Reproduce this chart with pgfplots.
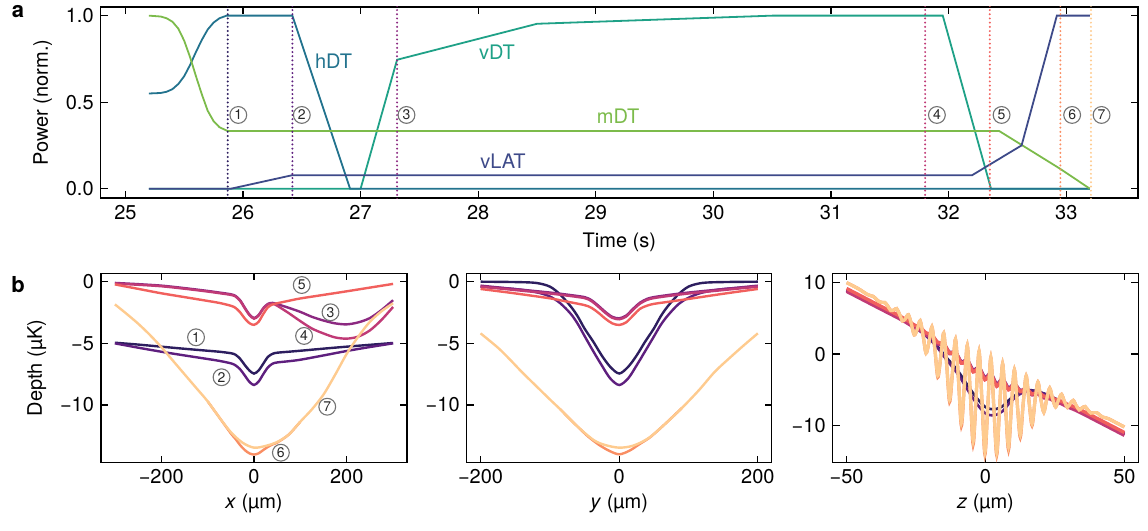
\documentclass[border=0pt]{standalone}
\usepackage{fontspec}
\setmainfont{TeX Gyre Heros}
\usepackage{pgfplots}
\pgfplotsset{compat=1.18}
\definecolor{hdt}{HTML}{23738E}
\definecolor{vdt}{HTML}{1FA187}
\definecolor{mdt}{HTML}{7CBB4B}
\definecolor{vlat}{HTML}{3E4A89}
\definecolor{c1}{HTML}{2D1E5F}
\definecolor{c2}{HTML}{5E1F7E}
\definecolor{c3}{HTML}{8C2981}
\definecolor{c4}{HTML}{C03A76}
\definecolor{c5}{HTML}{F1605D}
\definecolor{c6}{HTML}{F98E63}
\definecolor{c7}{HTML}{FECB8F}
\tikzset{
  circ/.style={circle,draw=black!55,line width=0.55pt,inner sep=0pt,minimum size=8.4pt,font=\fontsize{7}{7}\selectfont,text=black!85},
  vdot/.style={line width=1.1pt,dash pattern=on 0pt off 2.1pt,line cap=round},
}
\pgfplotsset{
  every axis/.append style={scale only axis, anchor=south west,
    axis line style={line width=0.7pt}, tick style={line width=0.6pt,black},
    major tick length=3.5pt, tick align=inside,
    /pgf/number format/assume math mode=true},
}
\begin{document}
\begin{tikzpicture}[font=\fontsize{10}{12}\selectfont]
\path[use as bounding box] (0,0) rectangle (574pt,265.5pt);
\node[font=\bfseries\fontsize{11}{11}\selectfont] at (9pt,259.5pt) {a};
\node[font=\bfseries\fontsize{11}{11}\selectfont] at (9pt,123pt) {b};

% ---------------- panel a ----------------
\begin{axis}[at={(50.35pt,166.5pt)}, width=518.65pt, height=95.5pt,
  xmin=24.79, xmax=33.61, ymin=-0.054, ymax=1.05,
  xtick={25,26,27,28,29,30,31,32,33}, ytick={0,0.5,1}, yticklabels={0.0,0.5,1.0},
  xlabel={Time (s)}, ylabel={Power (norm.)}]
\addplot[vdt, line width=0.9pt] coordinates {(25.20,0) (27.00,0) (27.31,0.745) (28.50,0.953) (30.50,1.0) (31.95,1.0) (32.36,0) (33.20,0)};
\addplot[hdt, line width=0.9pt] coordinates {(25.20,0.550) (25.30,0.553) (25.35,0.560) (25.40,0.575) (25.45,0.605) (25.50,0.650) (25.55,0.715) (25.60,0.790) (25.65,0.860) (25.70,0.920) (25.75,0.960) (25.80,0.985) (25.86,1.000) (26.42,1.000) (26.91,0.000) (33.20,0.000)};
\addplot[mdt, line width=0.9pt] coordinates {(25.20,1.000) (25.30,0.995) (25.35,0.985) (25.40,0.965) (25.45,0.925) (25.50,0.855) (25.55,0.760) (25.60,0.650) (25.65,0.545) (25.70,0.450) (25.75,0.390) (25.80,0.355) (25.87,0.333) (32.43,0.333) (32.95,0.114) (33.20,0.000)};
\addplot[vlat, line width=0.9pt] coordinates {(25.20,0) (25.90,0) (26.42,0.078) (32.20,0.078) (32.62,0.250) (32.92,1.0) (33.20,1.0)};
\addplot[c1, vdot] coordinates {(25.87,-0.06) (25.87,1.06)};
\addplot[c2, vdot] coordinates {(26.42,-0.06) (26.42,1.06)};
\addplot[c3, vdot] coordinates {(27.31,-0.06) (27.31,1.06)};
\addplot[c4, vdot] coordinates {(31.80,-0.06) (31.80,1.06)};
\addplot[c5, vdot] coordinates {(32.35,-0.06) (32.35,1.06)};
\addplot[c6, vdot] coordinates {(32.95,-0.06) (32.95,1.06)};
\addplot[c7, vdot] coordinates {(33.21,-0.06) (33.21,1.06)};
\node[circ] at (axis cs:25.96,0.426) {1};
\node[circ] at (axis cs:26.50,0.426) {2};
\node[circ] at (axis cs:27.39,0.426) {3};
\node[circ] at (axis cs:31.90,0.426) {4};
\node[circ] at (axis cs:32.45,0.426) {5};
\node[circ] at (axis cs:33.05,0.426) {6};
\node[circ] at (axis cs:33.30,0.426) {7};
\node[text=hdt] at (axis cs:26.77,0.734) {hDT};
\node[text=vdt] at (axis cs:28.16,0.788) {vDT};
\node[text=mdt] at (axis cs:29.19,0.416) {mDT};
\node[text=vlat] at (axis cs:28.21,0.156) {vLAT};
\end{axis}

% ---------------- panel b, x ----------------
\begin{axis}[at={(50.5pt,34.15pt)}, width=153pt, height=94.7pt,
  xmin=-330, xmax=330, ymin=-14.68, ymax=0.68,
  xtick={-200,0,200}, xticklabels={−200,0,200},
  ytick={-10,-5,0}, yticklabels={−10,−5,0},
  xlabel={\textit{x} (µm)}, ylabel={Depth (µK)},
  xlabel style={yshift=2pt}]
\addplot[c1, line width=1.2pt, smooth] coordinates {(-300,-4.95) (-250,-5.10) (-200,-5.27) (-150,-5.44) (-100,-5.60) (-75,-5.68) (-50,-5.80) (-40,-5.92) (-30,-6.25) (-20,-6.75) (-10,-7.20) (0,-7.45) (10,-7.20) (20,-6.65) (30,-6.10) (40,-5.85) (50,-5.76) (75,-5.68) (100,-5.60) (150,-5.43) (200,-5.27) (250,-5.12) (300,-4.97)};
\addplot[c2, line width=1.2pt, smooth] coordinates {(-300,-5.00) (-250,-5.35) (-200,-5.68) (-150,-5.98) (-100,-6.27) (-75,-6.42) (-50,-6.62) (-40,-6.78) (-30,-7.10) (-20,-7.60) (-10,-8.12) (0,-8.38) (10,-8.10) (20,-7.50) (30,-6.95) (40,-6.65) (50,-6.55) (75,-6.45) (100,-6.33) (150,-5.98) (200,-5.62) (250,-5.30) (300,-5.00)};
\addplot[c3, line width=1.2pt, smooth] coordinates {(-300,-0.10) (-250,-0.20) (-200,-0.32) (-150,-0.52) (-100,-0.75) (-75,-0.88) (-50,-1.02) (-40,-1.15) (-30,-1.50) (-20,-2.10) (-10,-2.65) (0,-2.95) (10,-2.70) (20,-2.15) (30,-1.80) (40,-1.72) (50,-1.82) (75,-2.12) (100,-2.45) (125,-2.85) (150,-3.15) (175,-3.38) (200,-3.46) (225,-3.30) (250,-2.95) (275,-2.30) (300,-1.50)};
\addplot[c4, line width=1.2pt, smooth] coordinates {(-300,-0.15) (-250,-0.25) (-200,-0.37) (-150,-0.57) (-100,-0.80) (-75,-0.93) (-50,-1.07) (-40,-1.20) (-30,-1.55) (-20,-2.15) (-10,-2.70) (0,-3.00) (10,-2.75) (20,-2.20) (30,-1.85) (40,-1.78) (50,-1.95) (75,-2.55) (100,-3.20) (125,-3.80) (150,-4.20) (175,-4.52) (200,-4.62) (225,-4.45) (250,-3.95) (275,-3.10) (300,-2.05)};
\addplot[c5, line width=1.2pt, smooth] coordinates {(-300,-0.22) (-250,-0.58) (-200,-0.94) (-150,-1.25) (-100,-1.56) (-75,-1.72) (-50,-1.95) (-40,-2.12) (-30,-2.48) (-20,-2.98) (-10,-3.36) (0,-3.50) (10,-3.25) (20,-2.62) (30,-2.08) (40,-1.85) (50,-1.75) (75,-1.55) (100,-1.36) (150,-1.07) (200,-0.78) (250,-0.48) (300,-0.18)};
\addplot[c6, line width=1.2pt, smooth] coordinates {(-100,-9.70) (-75,-11.00) (-50,-12.30) (-40,-12.75) (-30,-13.25) (-20,-13.65) (-10,-13.92) (0,-14.02) (10,-13.92) (20,-13.65) (30,-13.40) (40,-13.20) (50,-13.05) (75,-12.40) (100,-11.35)};
\addplot[c7, line width=1.2pt, smooth] coordinates {(-300,-1.84) (-275,-2.60) (-250,-3.40) (-225,-4.30) (-200,-5.30) (-175,-6.40) (-150,-7.50) (-125,-8.60) (-100,-9.70) (-75,-11.00) (-50,-12.20) (-25,-13.05) (0,-13.46) (25,-13.32) (50,-13.00) (75,-12.40) (100,-11.35) (125,-10.35) (150,-9.15) (175,-7.55) (200,-5.85) (225,-4.45) (250,-3.25) (275,-2.40) (300,-1.75)};
\node[circ] at (axis cs:-125,-4.51) {1};
\node[circ] at (axis cs:-70,-7.75) {2};
\node[circ] at (axis cs:165,-2.48) {3};
\node[circ] at (axis cs:108,-4.40) {4};
\node[circ] at (axis cs:103,-0.27) {5};
\node[circ] at (axis cs:58,-13.87) {6};
\node[circ] at (axis cs:158,-10.14) {7};
\end{axis}

% ---------------- panel b, y ----------------
\begin{axis}[at={(233.35pt,34.15pt)}, width=152.5pt, height=94.7pt,
  xmin=-220, xmax=220, ymin=-14.68, ymax=0.68,
  xtick={-200,0,200}, xticklabels={−200,0,200},
  ytick={-10,-5,0}, yticklabels={−10,−5,0},
  xlabel={\textit{y} (µm)}, xlabel style={yshift=2pt}]
\addplot[c1, line width=1.2pt, smooth] coordinates {(-200,0.00) (-150,-0.03) (-120,-0.10) (-100,-0.40) (-85,-1.05) (-70,-2.00) (-60,-2.80) (-50,-3.80) (-37,-4.90) (-25,-6.00) (-13,-6.90) (0,-7.45) (13,-6.90) (25,-6.00) (37,-4.90) (50,-3.80) (60,-2.80) (70,-2.00) (85,-1.05) (100,-0.40) (120,-0.10) (150,-0.03) (200,0.00)};
\addplot[c2, line width=1.2pt, smooth] coordinates {(-200,-0.40) (-150,-0.60) (-120,-0.85) (-100,-1.20) (-85,-1.75) (-70,-2.60) (-60,-3.40) (-50,-4.40) (-37,-5.68) (-25,-6.80) (-13,-7.84) (0,-8.38) (13,-7.84) (25,-6.80) (37,-5.68) (50,-4.45) (60,-3.50) (70,-2.75) (85,-1.85) (100,-1.30) (120,-0.88) (150,-0.60) (200,-0.40)};
\addplot[c3, line width=1.2pt, smooth] coordinates {(-200,-0.32) (-150,-0.60) (-100,-0.88) (-75,-1.05) (-50,-1.25) (-40,-1.50) (-30,-1.95) (-20,-2.45) (-10,-2.85) (0,-2.97) (10,-2.75) (20,-2.20) (30,-1.70) (40,-1.40) (50,-1.25) (75,-1.05) (100,-0.88) (150,-0.60) (200,-0.32)};
\addplot[c4, line width=1.2pt, smooth, yshift=-0.5pt] coordinates {(-200,-0.32) (-150,-0.60) (-100,-0.88) (-75,-1.05) (-50,-1.25) (-40,-1.50) (-30,-1.95) (-20,-2.45) (-10,-2.85) (0,-2.97) (10,-2.75) (20,-2.20) (30,-1.70) (40,-1.40) (50,-1.25) (75,-1.05) (100,-0.88) (150,-0.60) (200,-0.32)};
\addplot[c5, line width=1.2pt, smooth] coordinates {(-200,-0.59) (-150,-0.95) (-100,-1.35) (-75,-1.62) (-50,-1.90) (-40,-2.12) (-30,-2.52) (-20,-3.00) (-10,-3.38) (0,-3.51) (10,-3.30) (20,-2.75) (30,-2.20) (40,-1.95) (50,-1.80) (75,-1.60) (100,-1.40) (150,-0.98) (200,-0.59)};
\addplot[c6, line width=1.2pt, smooth] coordinates {(-85,-10.35) (-61,-11.70) (-45,-12.55) (-30,-13.20) (-15,-13.70) (0,-14.00) (15,-13.70) (30,-13.15) (45,-12.60) (65,-11.60) (90,-10.27)};
\addplot[c7, line width=1.2pt, smooth] coordinates {(-200,-4.19) (-175,-5.35) (-157,-6.35) (-140,-7.35) (-120,-8.45) (-100,-9.55) (-85,-10.35) (-61,-11.70) (-37,-12.84) (-20,-13.25) (0,-13.46) (20,-13.30) (42,-12.70) (65,-11.60) (90,-10.27) (115,-8.80) (138,-7.30) (160,-6.15) (180,-5.15) (200,-4.19)};
\end{axis}

% ---------------- panel b, z ----------------
\begin{axis}[at={(416.35pt,34.15pt)}, width=152.8pt, height=94.7pt,
  xmin=-55, xmax=55, ymin=-15.2, ymax=11.3,
  xtick={-50,0,50}, xticklabels={−50,0,50},
  ytick={-10,0,10}, yticklabels={−10,0,10},
  xlabel={\textit{z} (µm)}, xlabel style={yshift=2pt}]
\addplot[c1, line width=1.3pt, smooth] coordinates {(-50,8.94) (-40,6.926) (-30,4.832) (-26,3.906) (-22,2.801) (-18,1.395) (-14,-0.510) (-10,-2.316) (-6,-4.622) (-3,-6.226) (0,-7.430) (3,-7.734) (6,-7.338) (9,-6.243) (12,-5.447) (15,-5.051) (18,-5.155) (22,-5.661) (26,-6.416) (30,-7.172) (40,-9.186) (50,-11.2)};
\addplot[c2, line width=1.3pt, smooth] coordinates {(-50,8.94) (-40,6.926) (-30,4.822) (-26,3.876) (-22,2.731) (-18,1.245) (-14,-0.810) (-10,-2.766) (-6,-5.272) (-3,-7.026) (0,-8.310) (3,-8.584) (6,-8.038) (9,-6.693) (12,-5.697) (15,-5.151) (18,-5.205) (22,-5.681) (26,-6.416) (30,-7.172) (40,-9.186) (50,-11.2)};
\addplot[c3, line width=1.7pt, smooth] coordinates {(-50,8.940) (-40,6.926) (-30,4.912) (-25.64,3.884) (-23.52,3.507) (-21.40,2.830) (-19.28,2.503) (-17.16,1.576) (-15.04,1.399) (-12.92,0.222) (-10.80,0.245) (-8.68,-1.082) (-6.56,-0.859) (-4.44,-2.236) (-2.32,-1.863) (-0.20,-3.290) (1.92,-2.717) (4.04,-4.194) (6.16,-3.471) (8.28,-4.748) (10.40,-4.175) (12.52,-5.102) (14.64,-4.828) (16.76,-5.555) (18.88,-5.432) (21.00,-5.959) (23.12,-6.086) (25.24,-6.513) (27.36,-6.790) (29.48,-7.217) (31.60,-7.544) (35,-8.179) (40,-9.186) (50,-11.200)};
\addplot[c4, line width=1.7pt, smooth, yshift=-0.6pt] coordinates {(-50,8.940) (-40,6.926) (-30,4.912) (-25.64,3.884) (-23.52,3.507) (-21.40,2.830) (-19.28,2.503) (-17.16,1.576) (-15.04,1.399) (-12.92,0.222) (-10.80,0.245) (-8.68,-1.082) (-6.56,-0.859) (-4.44,-2.236) (-2.32,-1.863) (-0.20,-3.290) (1.92,-2.717) (4.04,-4.194) (6.16,-3.471) (8.28,-4.748) (10.40,-4.175) (12.52,-5.102) (14.64,-4.828) (16.76,-5.555) (18.88,-5.432) (21.00,-5.959) (23.12,-6.086) (25.24,-6.513) (27.36,-6.790) (29.48,-7.217) (31.60,-7.544) (35,-8.179) (40,-9.186) (50,-11.200)};
\addplot[c5, line width=1.7pt, smooth] coordinates {(-50,9.175) (-40,7.160) (-30,5.145) (-25.64,4.076) (-23.52,3.714) (-21.40,2.972) (-19.28,2.675) (-17.16,1.618) (-15.04,1.506) (-12.92,0.143) (-10.80,0.276) (-8.68,-1.276) (-6.56,-0.888) (-4.44,-2.505) (-2.32,-1.933) (-0.20,-3.610) (1.92,-2.787) (4.04,-4.524) (6.16,-3.516) (8.28,-5.008) (10.40,-4.186) (12.52,-5.233) (14.64,-4.790) (16.76,-5.587) (18.88,-5.329) (21.00,-5.882) (23.12,-5.934) (25.24,-6.361) (27.36,-6.603) (29.48,-7.030) (31.60,-7.327) (35,-7.953) (40,-8.960) (50,-10.975)};
\addplot[c6, line width=1.6pt, smooth] coordinates {(-50.00,10.000) (-46.00,9.192) (-42.60,8.355) (-41.54,8.197) (-40.48,8.077) (-39.42,7.732) (-38.36,7.349) (-37.30,7.235) (-36.24,7.220) (-35.18,6.706) (-34.12,6.092) (-33.06,6.153) (-32.00,6.364) (-30.94,5.575) (-29.88,4.636) (-28.82,4.934) (-27.76,5.508) (-26.70,4.231) (-25.64,2.679) (-24.58,3.453) (-23.52,4.651) (-22.46,2.600) (-21.40,0.123) (-20.34,1.671) (-19.28,3.795) (-18.22,0.668) (-17.16,-3.250) (-16.10,-0.360) (-15.04,2.938) (-13.98,-1.414) (-12.92,-6.700) (-11.86,-2.454) (-10.80,2.082) (-9.74,-3.483) (-8.68,-10.050) (-7.62,-4.424) (-6.56,1.225) (-5.50,-5.277) (-4.44,-12.650) (-3.38,-6.011) (-2.32,0.369) (-1.26,-6.626) (-0.20,-14.050) (0.86,-7.055) (1.92,-0.488) (2.98,-7.296) (4.04,-14.120) (5.10,-7.405) (6.16,-1.344) (7.22,-7.383) (8.28,-13.400) (9.34,-7.274) (10.40,-2.201) (11.46,-7.077) (12.52,-11.650) (13.58,-6.893) (14.64,-3.057) (15.70,-6.721) (16.76,-10.000) (17.82,-6.537) (18.88,-3.914) (19.94,-6.341) (21.00,-8.142) (22.06,-6.256) (23.12,-4.770) (24.18,-6.284) (25.24,-7.398) (26.30,-6.413) (27.36,-5.627) (28.42,-6.641) (29.48,-7.455) (30.54,-6.906) (31.60,-6.483) (32.66,-7.210) (33.72,-7.811) (34.78,-7.526) (35.84,-7.340) (36.90,-7.854) (37.96,-8.268) (39.02,-8.195) (40.08,-8.196) (41.14,-8.548) (42.20,-8.824) (43.26,-8.914) (44.32,-9.053) (47.00,-9.594) (50.00,-10.200)};
\addplot[c7, line width=1.6pt, smooth] coordinates {(-50.00,10.000) (-46.00,9.192) (-42.60,8.355) (-41.54,8.197) (-40.48,8.077) (-39.42,7.732) (-38.36,7.349) (-37.30,7.235) (-36.24,7.220) (-35.18,6.706) (-34.12,6.092) (-33.06,6.153) (-32.00,6.364) (-30.94,5.575) (-29.88,4.636) (-28.82,4.934) (-27.76,5.508) (-26.70,4.231) (-25.64,2.679) (-24.58,3.453) (-23.52,4.651) (-22.46,2.600) (-21.40,0.123) (-20.34,1.671) (-19.28,3.795) (-18.22,0.668) (-17.16,-3.034) (-16.10,-0.360) (-15.04,2.938) (-13.98,-1.414) (-12.92,-6.390) (-11.86,-2.454) (-10.80,2.082) (-9.74,-3.483) (-8.68,-9.647) (-7.62,-4.424) (-6.56,1.225) (-5.50,-5.277) (-4.44,-12.203) (-3.38,-6.011) (-2.32,0.369) (-1.26,-6.626) (-0.20,-13.700) (0.86,-7.055) (1.92,-0.488) (2.98,-7.296) (4.04,-13.800) (5.10,-7.405) (6.16,-1.344) (7.22,-7.383) (8.28,-12.973) (9.34,-7.274) (10.40,-2.201) (11.46,-7.077) (12.52,-11.329) (13.58,-6.893) (14.64,-3.057) (15.70,-6.721) (16.76,-9.786) (17.82,-6.537) (18.88,-3.914) (19.94,-6.341) (21.00,-8.142) (22.06,-6.256) (23.12,-4.770) (24.18,-6.284) (25.24,-7.398) (26.30,-6.413) (27.36,-5.627) (28.42,-6.641) (29.48,-7.455) (30.54,-6.906) (31.60,-6.483) (32.66,-7.210) (33.72,-7.811) (34.78,-7.526) (35.84,-7.340) (36.90,-7.854) (37.96,-8.268) (39.02,-8.195) (40.08,-8.196) (41.14,-8.548) (42.20,-8.824) (43.26,-8.914) (44.32,-9.053) (47.00,-9.594) (50.00,-10.200)};
\end{axis}
\end{tikzpicture}
\end{document}
